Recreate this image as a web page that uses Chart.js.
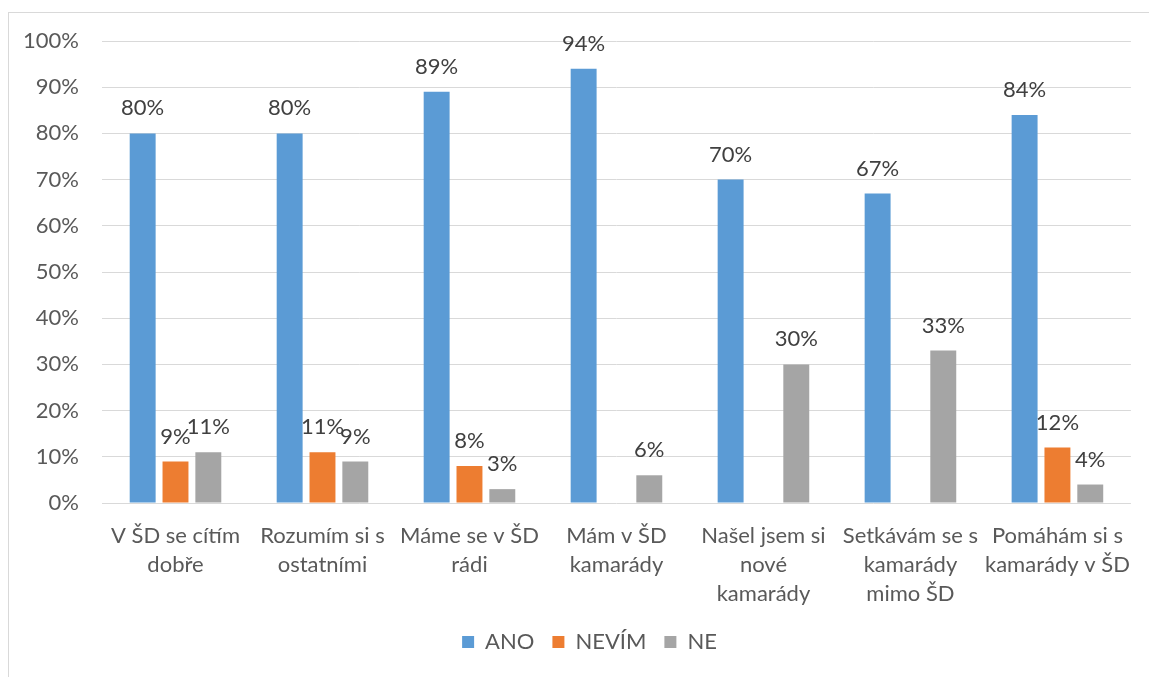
<!DOCTYPE html>
<html>
<head>
<meta charset="utf-8">
<script src="https://cdn.jsdelivr.net/npm/chart.js@4"></script>
<style>
  html, body { margin: 0; padding: 0; background: #fff; overflow: hidden; }
  #frame { position: absolute; left: 8px; top: 12px; width: 1200px; height: 700px; border: 1px solid #d9d9d9; }
  #wrap { position: absolute; left: 0; top: 0; width: 1149px; height: 677px; }
</style>
</head>
<body>
<div id="frame"></div>
<div id="wrap"><canvas id="chart"></canvas></div>
<script>
const categories = [
  ['V ŠD se cítím', 'dobře'],
  ['Rozumím si s', 'ostatními'],
  ['Máme se v ŠD', 'rádi'],
  ['Mám v ŠD', 'kamarády'],
  ['Našel jsem si', 'nové', 'kamarády'],
  ['Setkávám se s', 'kamarády', 'mimo ŠD'],
  ['Pomáhám si s', 'kamarády v ŠD']
];
const seriesNames = ['ANO', 'NEVÍM', 'NE'];
const ano = [80, 80, 89, 94, 70, 67, 84];
const nevim = [9, 11, 8, null, null, null, 12];
const ne = [11, 9, 3, 6, 30, 33, 4];
const colors = ['#5B9BD5', '#ED7D31', '#A5A5A5'];

const fontFamily = 'Lato, "Open Sans", sans-serif';

// draws the value above each bar, like Excel data labels
const valueLabels = {
  id: 'valueLabels',
  afterDatasetsDraw(chart) {
    const ctx = chart.ctx;
    ctx.save();
    ctx.font = '22px ' + fontFamily;
    ctx.fillStyle = '#404040';
    ctx.textAlign = 'center';
    ctx.textBaseline = 'middle';
    chart.data.datasets.forEach((ds, i) => {
      const meta = chart.getDatasetMeta(i);
      meta.data.forEach((bar, j) => {
        const v = ds.data[j];
        if (v === null || v === undefined) return;
        ctx.fillText(v + '%', bar.x, bar.y - 25);
      });
    });
    ctx.restore();
  }
};

// the legend in the original sits a bit right of the canvas centre
const legendShift = {
  id: 'legendShift',
  afterLayout(chart) {
    if (!chart.legend) return;
    chart.legend.left += 18;
    chart.legend.right += 18;
  }
};

const ctx = document.getElementById('chart');
new Chart(ctx, {
  type: 'bar',
  data: {
    labels: categories,
    datasets: [
      { label: seriesNames[0], data: ano, backgroundColor: colors[0] },
      { label: seriesNames[1], data: nevim, backgroundColor: colors[1] },
      { label: seriesNames[2], data: ne, backgroundColor: colors[2] }
    ]
  },
  options: {
    responsive: true,
    maintainAspectRatio: false,
    animation: false,
    datasets: {
      bar: { categoryPercentage: 0.67, barPercentage: 0.79 }
    },
    layout: { padding: { left: 10, right: 16, top: 41, bottom: 14 } },
    plugins: {
      legend: {
        position: 'bottom',
        labels: {
          boxWidth: 12,
          boxHeight: 12,
          padding: 18,
          color: '#595959',
          font: { family: fontFamily, size: 22 }
        }
      },
      tooltip: { enabled: false }
    },
    scales: {
      x: {
        grid: { display: false, drawTicks: false },
        border: { display: false },
        ticks: {
          color: '#595959',
          padding: 18,
          maxRotation: 0,
          autoSkip: false,
          font: { family: fontFamily, size: 22, lineHeight: 1.32 }
        },
        afterFit(scale) { scale.height = 110; }
      },
      y: {
        min: 0,
        max: 100,
        grid: { color: '#d9d9d9', drawTicks: false },
        border: { display: false },
        ticks: {
          stepSize: 10,
          color: '#595959',
          padding: 23,
          font: { family: fontFamily, size: 22 },
          callback: function(value) { return value + '%'; }
        },
        afterFit(scale) { scale.width = 92; }
      }
    }
  },
  plugins: [valueLabels, legendShift]
});
</script>
</body>
</html>
